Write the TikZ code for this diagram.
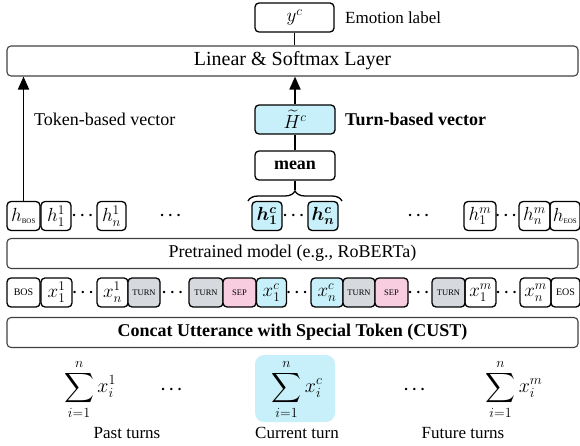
\RequirePackage{fix-cm}
\documentclass[tikz,border=0pt]{standalone}
\usepackage{fontspec}
\setmainfont{Liberation Serif}
\usepackage{amsmath,bm}
\usetikzlibrary{arrows.meta,decorations.pathreplacing}
\definecolor{tokblue}{HTML}{C8F0FA}
\definecolor{tokgray}{HTML}{D6D9DE}
\definecolor{tokpink}{HTML}{F8CDE0}
\newcommand{\dd}{$\bm{\cdots}$}
\newcommand{\sub}[1]{\mbox{\fontsize{7}{8}\selectfont #1}}
\tikzset{
  bigbox/.style={draw=black!75, line width=1.1pt, rounded corners=4pt, minimum width=571pt, minimum height=30pt, inner sep=0pt, font=\fontsize{18}{20}\selectfont},
  tok/.style={draw, line width=1.3pt, rounded corners=4pt, minimum height=29pt, inner sep=0pt, font=\fontsize{19}{21}\selectfont},
  spc/.style={tok, font=\fontsize{8.5}{10}\selectfont},
  dts/.style={font=\fontsize{16}{16}\selectfont, inner sep=0pt},
  lbl/.style={font=\fontsize{18}{20}\selectfont, inner sep=0pt},
  sumtxt/.style={font=\fontsize{20}{22}\selectfont, inner sep=0pt},
  up/.style={-{Triangle[length=13pt,width=11pt]}, line width=1.8pt},
}
\begin{document}
\begin{tikzpicture}[x = 1pt, y = -1pt]
  \useasboundingbox (0,0) rectangle (580,446);
  % output and classifier
  \node[tok, minimum width=79pt] (yc) at (294.5,17.5) {$y^c$};
  \node[lbl, anchor=west, font=\fontsize{17}{19}\selectfont] (emo) at (345,17.5) {Emotion label};
  \node[bigbox, font=\fontsize{20}{22}\selectfont] (lin) at (292.5,61) {Linear \& Softmax Layer};
  \node[tok, fill=tokblue, minimum width=80pt] (hc) at (295,119.5) {$\widetilde{H}^c$};
  \node[lbl, anchor=west, font=\fontsize{18}{20}\selectfont\bfseries] (tbv) at (345,119.5) {Turn-based vector};
  \node[lbl, anchor=west] (tkv) at (34,119.5) {Token-based vector};
  \node[tok, minimum width=80pt, font=\fontsize{18}{20}\selectfont] (mean) at (295,165.5) {\textbf{mean}};
  % hidden states
  \node[tok, minimum width=33pt] (hbos) at (23.5,216) {$h_{\sub{BOS}}$};
  \node[tok, minimum width=30pt] (hpa) at (56,216) {$h_1^1$};
  \node[dts] (dha) at (84,216) {\dd};
  \node[tok, minimum width=29pt] (hpb) at (111.5,216) {$h_n^1$};
  \node[dts] (dhb) at (172,216) {\dd};
  \node[tok, fill=tokblue, minimum width=30pt] (hca) at (267,216) {$\bm{h_1^c}$};
  \node[dts] (dhc) at (295,216) {\dd};
  \node[tok, fill=tokblue, minimum width=30pt] (hcb) at (323,216) {$\bm{h_n^c}$};
  \node[dts] (dhd) at (420,216) {\dd};
  \node[tok, minimum width=32pt] (hfa) at (480,216) {$h_1^m$};
  \node[dts] (dhe) at (507.5,216) {\dd};
  \node[tok, minimum width=31pt] (hfb) at (534.5,216) {$h_n^m$};
  \node[tok, minimum width=30pt] (heos) at (565,216) {$h_{\sub{EOS}}$};
  \node[bigbox] (plm) at (292.5,253.5) {Pretrained model (e.g., RoBERTa)};
  % input tokens
  \node[spc, minimum width=33pt, font=\fontsize{10}{12}\selectfont] (bos) at (23.5,292.5) {BOS};
  \node[tok, minimum width=31pt] (xpa) at (56.5,292.5) {$x_1^1$};
  \node[dts] (dxa) at (84.5,292.5) {\dd};
  \node[tok, minimum width=31pt] (xpb) at (112.5,292.5) {$x_n^1$};
  \node[spc, fill=tokgray, minimum width=32pt] (ta) at (144,292.5) {TURN};
  \node[dts] (dxb) at (174,292.5) {\dd};
  \node[spc, fill=tokgray, minimum width=34pt] (tb) at (206,292.5) {TURN};
  \node[spc, fill=tokpink, minimum width=33pt] (sa) at (239.5,292.5) {SEP};
  \node[tok, fill=tokblue, minimum width=30pt] (xca) at (271.5,292.5) {$x_1^c$};
  \node[dts] (dxc) at (298.5,292.5) {\dd};
  \node[tok, fill=tokblue, minimum width=32pt] (xcb) at (327,292.5) {$x_n^c$};
  \node[spc, fill=tokgray, minimum width=32pt] (tc) at (359,292.5) {TURN};
  \node[spc, fill=tokpink, minimum width=33pt] (sb) at (391.5,292.5) {SEP};
  \node[dts] (dxd) at (420,292.5) {\dd};
  \node[spc, fill=tokgray, minimum width=33pt] (td) at (448.5,292.5) {TURN};
  \node[tok, minimum width=31pt] (xfa) at (480.5,292.5) {$x_1^m$};
  \node[dts] (dxe) at (508,292.5) {\dd};
  \node[tok, minimum width=31pt] (xfb) at (535.5,292.5) {$x_n^m$};
  \node[spc, minimum width=29pt, font=\fontsize{10}{12}\selectfont] (eos) at (565.5,292.5) {EOS};
  \node[bigbox, font=\fontsize{18}{20}\selectfont\bfseries] (cust) at (292.5,332.5) {Concat Utterance with Special Token (CUST)};
  % turns
  \node[sumtxt] (spast) at (90,389) {$\displaystyle\sum_{i=1}^{n} x_i^1$};
  \node[dts] (dsa) at (173,390) {\dd};
  \node[fill=tokblue, rounded corners=9pt, minimum width=80pt, minimum height=67pt] (scur) at (295,388.5) {};
  \node[sumtxt] (scurt) at (297,389) {$\displaystyle\sum_{i=1}^{n} x_i^c$};
  \node[dts] (dsb) at (416,390) {\dd};
  \node[sumtxt] (sfut) at (514,389) {$\displaystyle\sum_{i=1}^{n} x_i^m$};
  \node[lbl, font=\fontsize{17}{19}\selectfont] (lpast) at (127,433) {Past turns};
  \node[lbl, font=\fontsize{17}{19}\selectfont] (lcur) at (297,433) {Current turn};
  \node[lbl, font=\fontsize{17}{19}\selectfont] (lfut) at (463,433) {Future turns};
  % connectors
  \coordinate (bl) at (248,201);
  \coordinate (br) at (342,201);
  \coordinate (btip) at (295,190);
  \draw[line width=1.3pt, decorate, decoration={brace, amplitude=10pt}] (bl) -- (br);
  \draw[line width=1.3pt] (mean.south) -- (btip);
  \draw[line width=1.3pt] (mean.north) -- (hc.south);
  \draw[up] (hc.north) -- (hc.north |- lin.south);
  \draw[up] (hbos.north) -- (hbos.north |- lin.south);
  \draw[line width=1.3pt] (yc.south) -- (yc.south |- lin.north);
\end{tikzpicture}
\end{document}
